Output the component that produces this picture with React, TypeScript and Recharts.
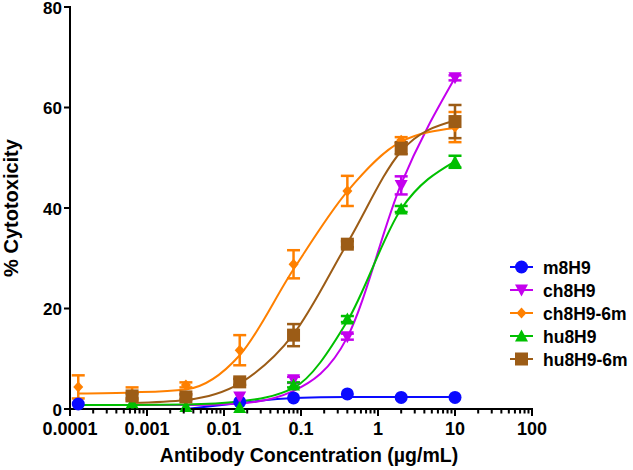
import React from 'react';
import {
    ComposedChart,
    Line,
    Scatter,
    XAxis,
    YAxis,
    ErrorBar,
} from 'recharts';

/* ── Data ────────────────────────────────────────────────────────────────── */
const CONC = [0.000128, 0.00064, 0.0032, 0.016, 0.08, 0.4, 2, 10];

const X_MAJOR = [0.0001, 0.001, 0.01, 0.1, 1, 10, 100];
const X_LABELS = ['0.0001', '0.001', '0.01', '0.1', '1', '10', '100'];
const X_MINOR_STEPS = [2, 3, 4, 5, 6, 7, 8, 9];
const Y_TICKS = [0, 20, 40, 60, 80];

// means, error (SD), and fitted-curve values read at each concentration
const M8H9_MEAN = [1.0, null, null, 1.4, 2.2, 3.0, 2.3, 2.3];
const M8H9_ERR  = [null, null, null, null, null, null, null, null];
const M8H9_FIT  = [null, null, 0, 1.2, 2.2, 2.4, 2.4, 2.4];

const CH8H9_MEAN = [null, null, 2.0, 2.4, 5.8, 14.4, 44.5, 65.9];
const CH8H9_ERR  = [null, null, null, null, 0.6, 0.6, 1.8, 0.5];
const CH8H9_FIT  = [0.8, 0.8, 0.8, 1.1, 3.6, 14.3, 44.8, 65.9];

const CH8H9_6M_MEAN = [4.4, 3.0, 4.8, 11.7, 28.8, 43.4, 53.5, 56.1];
const CH8H9_6M_ERR  = [2.3, 1.3, 0.5, 3.0, 2.8, 3.0, 0.6, 3.0];
const CH8H9_6M_FIT  = [3.1, 3.3, 3.9, 10.7, 27.8, 43.3, 53.2, 55.9];

const HU8H9_MEAN = [null, 1.2, 0.5, 0.3, 4.8, 17.9, 39.8, 49.2];
const HU8H9_ERR  = [null, null, null, null, 0.5, 0.6, 0.6, 1.2];
const HU8H9_FIT  = [0.8, 0.8, 0.9, 1.5, 4.2, 17.5, 39.8, 49.3];

const HU8H9_6M_MEAN = [null, 2.6, 2.4, 5.4, 14.7, 32.8, 51.9, 57.2];
const HU8H9_6M_ERR  = [null, 0.5, 0.5, 0.6, 2.2, 0.6, 1.2, 3.3];
const HU8H9_6M_FIT  = [null, 1.2, 1.8, 5.1, 14.9, 33.0, 51.3, 57.4];

const FONT = '"Liberation Sans", Arial, Helvetica, sans-serif';

type Shape = 'circle' | 'down' | 'diamond' | 'up' | 'square';

const SERIES: { name: string; color: string; shape: Shape; mean: (number | null)[]; err: (number | null)[]; fit: (number | null)[] }[] = [
    { name: 'm8H9',     color: '#0a0aff', shape: 'circle',  mean: M8H9_MEAN,     err: M8H9_ERR,     fit: M8H9_FIT },
    { name: 'ch8H9',    color: '#c400ee', shape: 'down',    mean: CH8H9_MEAN,    err: CH8H9_ERR,    fit: CH8H9_FIT },
    { name: 'ch8H9-6m', color: '#ff8000', shape: 'diamond', mean: CH8H9_6M_MEAN, err: CH8H9_6M_ERR, fit: CH8H9_6M_FIT },
    { name: 'hu8H9',    color: '#00c000', shape: 'up',      mean: HU8H9_MEAN,    err: HU8H9_ERR,    fit: HU8H9_FIT },
    { name: 'hu8H9-6m', color: '#9c5c16', shape: 'square',  mean: HU8H9_6M_MEAN, err: HU8H9_6M_ERR, fit: HU8H9_6M_FIT },
];

const X_TICKS = [
    ...X_MAJOR,
    ...X_MAJOR.slice(0, -1).flatMap(d => X_MINOR_STEPS.map(m => d * m)),
].sort((a, b) => a - b);

/* ── Markers ─────────────────────────────────────────────────────────────── */
const Marker = ({ shape, cx, cy, color }: { shape: Shape; cx: number; cy: number; color: string }) => {
    switch (shape) {
        case 'circle':
            return <circle cx={cx} cy={cy} r={6.5} fill={color} />;
        case 'down':
            return <polygon points={`${cx - 6.5},${cy - 5.5} ${cx + 6.5},${cy - 5.5} ${cx},${cy + 6.5}`} fill={color} />;
        case 'up':
            return <polygon points={`${cx - 6.5},${cy + 5.5} ${cx + 6.5},${cy + 5.5} ${cx},${cy - 6.5}`} fill={color} />;
        case 'diamond':
            return <polygon points={`${cx},${cy - 5.5} ${cx + 5},${cy} ${cx},${cy + 5.5} ${cx - 5},${cy}`} fill={color} />;
        default:
            return <rect x={cx - 6.5} y={cy - 6.5} width={13} height={13} fill={color} />;
    }
};

/* ── Axis ticks (log minor ticks shorter, majors labelled) ───────────────── */
const XTick = ({ x, y, payload }: any) => {
    const lg = Math.log10(payload.value);
    const major = Math.abs(lg - Math.round(lg)) < 1e-6;
    return (
        <g>
            <rect x={x - 1} y={y - 1} width={2} height={major ? 8 : 5.5} fill="#000" />
            {major && (
                <text x={x} y={y + 26} textAnchor="middle" fill="#000"
                      fontSize={18} fontWeight="bold" fontFamily={FONT}>
                    {X_LABELS[Math.round(lg) + 4]}
                </text>
            )}
        </g>
    );
};

const YTick = ({ x, y, payload }: any) => (
    <g>
        <rect x={x} y={y - 1} width={7} height={2} fill="#000" />
        <text x={x - 2} y={y + 6.5} textAnchor="end" fill="#000"
              fontSize={17} fontWeight="bold" fontFamily={FONT}>
            {payload.value}
        </text>
    </g>
);

/* ── Legend (drawn beside the plot, outside the chart's layout) ──────────── */
const LegendBox = () => (
    <svg width={128} height={118} style={{ position: 'absolute', left: 505, top: 255 }}>
        {SERIES.map((s, i) => {
            const cy = 12 + i * 23;
            return (
                <g key={s.name}>
                    <line x1={5} x2={28} y1={cy} y2={cy} stroke={s.color} strokeWidth={2} />
                    <Marker shape={s.shape} cx={16.5} cy={cy} color={s.color} />
                    <text x={38} y={cy + 6.5} fill="#000" fontSize={17.5} fontWeight="bold" fontFamily={FONT}>
                        {s.name}
                    </text>
                </g>
            );
        })}
    </svg>
);

/* ── Main chart ──────────────────────────────────────────────────────────── */
export default function App() {
    const points = SERIES.map(s =>
        CONC.map((x, i) => ({ x, y: s.mean[i], e: s.err[i] })).filter(p => p.y != null));
    const curves = SERIES.map(s =>
        CONC.map((x, i) => ({ x, y: s.fit[i] })).filter(p => p.y != null));

    return (
        <div style={{ position: 'absolute', left: 0, top: 0, width: 633, height: 470, background: '#fff' }}>
            <ComposedChart width={633} height={470} margin={{ top: 7, right: 101, bottom: 0, left: 0 }}>
                <XAxis
                    dataKey="x"
                    type="number"
                    scale="log"
                    domain={[0.0001, 100]}
                    allowDataOverflow
                    ticks={X_TICKS}
                    interval={0}
                    tick={<XTick />}
                    tickLine={false}
                    tickSize={0}
                    tickMargin={0}
                    axisLine={{ stroke: '#000', strokeWidth: 2 }}
                    height={61}
                    label={{
                        value: 'Antibody Concentration (µg/mL)',
                        position: 'insideBottom',
                        offset: 8,
                        dx: 8,
                        style: { fontSize: 19.5, fontWeight: 'bold', fill: '#000', fontFamily: FONT },
                    }}
                />
                <YAxis
                    type="number"
                    domain={[0, 80]}
                    ticks={Y_TICKS}
                    interval={0}
                    tick={<YTick />}
                    tickLine={false}
                    tickSize={6}
                    tickMargin={0}
                    axisLine={{ stroke: '#000', strokeWidth: 2 }}
                    width={70}
                    label={{
                        value: '% Cytotoxicity',
                        angle: -90,
                        position: 'insideLeft',
                        offset: 11,
                        style: { textAnchor: 'middle', fontSize: 20, fontWeight: 'bold', fill: '#000', fontFamily: FONT },
                    }}
                />

                {/* fitted curves */}
                {SERIES.map((s, i) => (
                    <Line
                        key={`fit-${s.name}`}
                        data={curves[i]}
                        dataKey="y"
                        type="monotone"
                        stroke={s.color}
                        strokeWidth={2}
                        dot={false}
                        activeDot={false}
                        legendType="none"
                        isAnimationActive={false}
                    />
                ))}

                {/* measured points with SD bars */}
                {SERIES.map((s, i) => (
                    <Scatter
                        key={`pts-${s.name}`}
                        name={s.name}
                        data={points[i]}
                        dataKey="y"
                        fill={s.color}
                        shape={(p: any) => <Marker shape={s.shape} cx={p.cx} cy={p.cy} color={s.color} />}
                        isAnimationActive={false}
                    >
                        <ErrorBar dataKey="e" direction="y" width={6.5} stroke={s.color} strokeWidth={2.5} />
                    </Scatter>
                ))}
            </ComposedChart>
            <LegendBox />
        </div>
    );
}
